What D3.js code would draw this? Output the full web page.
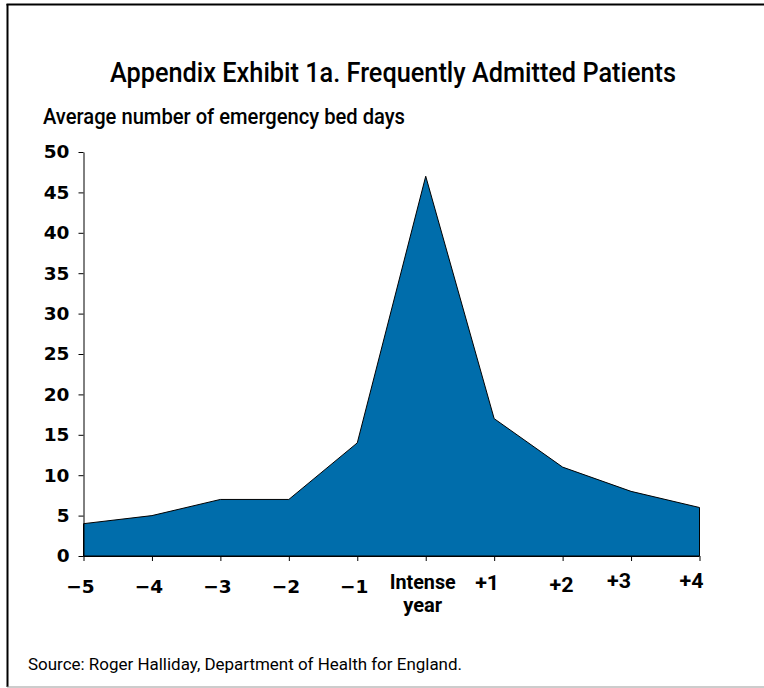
<!DOCTYPE html>
<html>
<head>
<meta charset="utf-8">
<title>Appendix Exhibit 1a</title>
<script src="https://cdnjs.cloudflare.com/ajax/libs/d3/7.8.5/d3.min.js"></script>
<style>
  body { margin: 0; background: #fff; }
  svg { display: block; }
</style>
</head>
<body>
<svg width="764" height="688"></svg>
<script>
// values
var categories = ["\u22125", "\u22124", "\u22123", "\u22122", "\u22121", "Intense year", "+1", "+2", "+3", "+4"];
var bedDays = [4, 5, 7, 7, 14, 47, 17, 11, 8, 6];
var yTicks = [0, 5, 10, 15, 20, 25, 30, 35, 40, 45, 50];

var cond = "Roboto, 'Noto Sans', sans-serif";
var numFont = "'DejaVu Sans', sans-serif";
var svg = d3.select("svg");

// frame
svg.append("line").attr("x1", 7.5).attr("x2", 7.5).attr("y1", 4).attr("y2", 687)
  .attr("stroke", "#000").attr("stroke-width", 2);
svg.append("line").attr("x1", 6.5).attr("x2", 764).attr("y1", 4.5).attr("y2", 4.5)
  .attr("stroke", "#000").attr("stroke-width", 2);
svg.append("line").attr("x1", 7).attr("x2", 764).attr("y1", 687).attr("y2", 687)
  .attr("stroke", "#999").attr("stroke-width", 1);

var x = d3.scalePoint().domain(categories).range([83.5, 699.5]);
var y = d3.scaleLinear().domain([0, 50]).range([556, 152]);

// area
var area = d3.area()
  .x(function(d, i) { return x(categories[i]); })
  .y0(y(0))
  .y1(function(d) { return y(d); });

svg.append("path")
  .datum(bedDays)
  .attr("d", area)
  .attr("fill", "#006dab")
  .attr("stroke", "#000")
  .attr("stroke-width", 1);

// y axis
var yAxis = svg.append("g")
  .attr("transform", "translate(83.5,0)")
  .call(d3.axisLeft(y).tickValues(yTicks).tickSize(5).tickSizeOuter(0).tickPadding(9));
yAxis.selectAll("text")
  .attr("font-family", numFont)
  .attr("font-weight", "bold")
  .attr("font-size", "18.5px")
  .attr("fill", "#000");

// x axis
var xAxis = svg.append("g")
  .attr("transform", "translate(0,556)")
  .call(d3.axisBottom(x).tickSize(5).tickSizeOuter(0).tickFormat(""));
xAxis.select(".domain").attr("d", "M83.5,0.5H" + x(categories[categories.length - 1]));
svg.selectAll(".domain, .tick line").attr("stroke", "#000");

// x labels sit a little left of their ticks in the original
var nudge = { "+1": [-7, 590], "+2": [-1, 592], "+3": [-12, 588], "+4": [-8, 588] };
var xl = svg.append("g");
categories.forEach(function(d) {
  var n = nudge[d] || [-3, 593];
  if (d == "Intense year") {
    var w = d.split(" ");
    xl.append("text").attr("x", x(d) - 3).attr("y", 589)
      .attr("text-anchor", "middle").attr("textLength", 66).attr("lengthAdjust", "spacingAndGlyphs")
      .attr("font-family", cond).attr("font-weight", "bold").attr("font-size", "20px")
      .text(w[0]);
    xl.append("text").attr("x", x(d) - 3).attr("y", 612)
      .attr("text-anchor", "middle").attr("textLength", 39).attr("lengthAdjust", "spacingAndGlyphs")
      .attr("font-family", cond).attr("font-weight", "bold").attr("font-size", "20px")
      .text(w[1]);
  } else if (d.charAt(0) == "+") {
    xl.append("text").attr("x", x(d) + n[0]).attr("y", n[1])
      .attr("text-anchor", "middle").attr("textLength", 24).attr("lengthAdjust", "spacingAndGlyphs")
      .attr("font-family", cond).attr("font-weight", "bold").attr("font-size", "21px")
      .text(d);
  } else {
    xl.append("text").attr("x", x(d) + n[0]).attr("y", n[1])
      .attr("text-anchor", "middle")
      .attr("font-family", numFont).attr("font-weight", "bold").attr("font-size", "18.5px")
      .text(d);
  }
});
xl.selectAll("text").attr("fill", "#000");

// titles
svg.append("text")
  .attr("x", 110).attr("y", 82)
  .attr("textLength", 566).attr("lengthAdjust", "spacingAndGlyphs")
  .attr("font-family", cond).attr("font-weight", 500).attr("font-size", "28px").attr("fill", "#000")
  .text("Appendix Exhibit 1a. Frequently Admitted Patients");

svg.append("text")
  .attr("x", 43).attr("y", 124)
  .attr("textLength", 362).attr("lengthAdjust", "spacingAndGlyphs")
  .attr("font-family", cond).attr("font-weight", 500).attr("font-size", "22px").attr("fill", "#000")
  .text("Average number of emergency bed days");

svg.append("text")
  .attr("x", 28).attr("y", 670)
  .attr("textLength", 434).attr("lengthAdjust", "spacingAndGlyphs")
  .attr("font-family", cond).attr("font-size", "16px").attr("fill", "#000")
  .text("Source: Roger Halliday, Department of Health for England.");
</script>
</body>
</html>
